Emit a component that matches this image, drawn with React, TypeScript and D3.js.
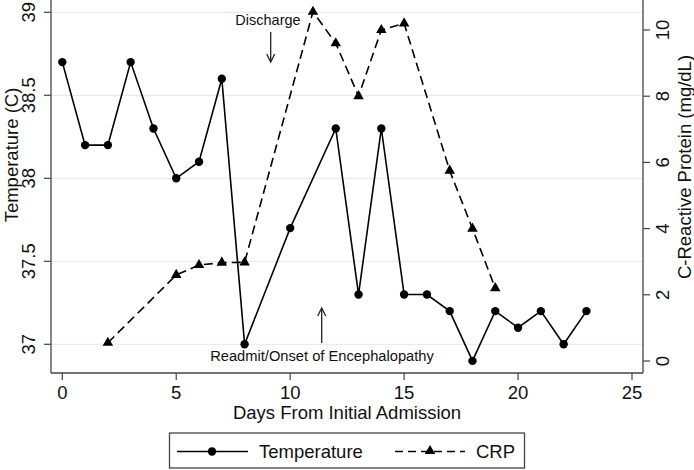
import React from "react";
import * as d3 from "d3";

const tempDays = [0, 1, 2, 3, 4, 5, 6, 7, 8, 10, 12, 13, 14, 15, 16, 17, 18, 19, 20, 21, 22, 23];
const tempValues = [38.7, 38.2, 38.2, 38.7, 38.3, 38.0, 38.1, 38.6, 37.0, 37.7, 38.3, 37.3, 38.3, 37.3, 37.3, 37.2, 36.9, 37.2, 37.1, 37.2, 37.0, 37.2];
const crpDays = [2, 5, 6, 7, 8, 11, 12, 13, 14, 15, 17, 18, 19];
const crpValues = [0.55, 2.6, 2.9, 2.97, 2.98, 10.55, 9.6, 8.0, 10.0, 10.2, 5.75, 4.0, 2.2];
const xTicks = [0, 5, 10, 15, 20, 25];
const tempTicks = [37, 37.5, 38, 38.5, 39];
const tempTickLabels = ["37", "37.5", "38", "38.5", "39"];
const crpTicks = [0, 2, 4, 6, 8, 10];

const FONT = "'Liberation Sans', Arial, Helvetica, sans-serif";
const AXIS = "#444";
const FS = 18.5;

export default function App() {
  const left = 51, right = 643, top = 0, bottom = 373;
  const x = d3.scaleLinear().domain([0, 25]).range([62.3, 632]);
  const yT = d3.scaleLinear().domain([37, 39]).range([344.3, 12.3]);
  const yC = d3.scaleLinear().domain([0, 10]).range([361, 30]);

  const tempLine = d3.line<number>().x((_, i) => x(tempDays[i])).y((d) => yT(d))(tempValues) || "";
  const crpLine = d3.line<number>().x((_, i) => x(crpDays[i])).y((d) => yC(d))(crpValues) || "";
  const tri = d3.symbol().type(d3.symbolTriangle).size(48)() || "";
  const dash = "9,5";

  return (
    <svg width={694} height={470} style={{ position: "absolute", left: 0, top: 0, background: "#fff" }} fontFamily={FONT}>
      <rect x={0} y={0} width={694} height={470} fill="#fff" />
      {tempTicks.map((t) => (
        <line key={"g" + t} x1={left} x2={right} y1={yT(t)} y2={yT(t)} stroke="#e6e6e6" strokeWidth={1} />
      ))}
      <line x1={left} x2={left} y1={top} y2={bottom} stroke={AXIS} strokeWidth={1.3} />
      <line x1={right} x2={right} y1={top} y2={bottom} stroke={AXIS} strokeWidth={1.3} />
      <line x1={left} x2={right} y1={bottom} y2={bottom} stroke={AXIS} strokeWidth={1.3} />
      {tempTicks.map((t, i) => (
        <g key={"lt" + t}>
          <line x1={left - 7} x2={left} y1={yT(t)} y2={yT(t)} stroke={AXIS} strokeWidth={1.2} />
          <text transform={`translate(${35},${yT(t)}) rotate(-90)`} textAnchor="middle" fontSize={FS} fill="#111">
            {tempTickLabels[i]}
          </text>
        </g>
      ))}
      {crpTicks.map((t) => (
        <g key={"rt" + t}>
          <line x1={right} x2={right + 7} y1={yC(t)} y2={yC(t)} stroke={AXIS} strokeWidth={1.2} />
          <text transform={`translate(${669},${yC(t)}) rotate(-90)`} textAnchor="middle" fontSize={FS} fill="#111">
            {t}
          </text>
        </g>
      ))}
      {xTicks.map((t) => (
        <g key={"bt" + t}>
          <line x1={x(t)} x2={x(t)} y1={bottom} y2={bottom + 7} stroke={AXIS} strokeWidth={1.2} />
          <text x={x(t)} y={399} textAnchor="middle" fontSize={FS} fill="#111">
            {t}
          </text>
        </g>
      ))}
      <text transform={`translate(${18},${155}) rotate(-90)`} textAnchor="middle" fontSize={FS} fill="#111">
        Temperature (C)
      </text>
      <text transform={`translate(${691},${167}) rotate(-90)`} textAnchor="middle" fontSize={FS} fill="#111">
        C-Reactive Protein (mg/dL)
      </text>
      <text x={347} y={419} textAnchor="middle" fontSize={FS} fill="#111">
        Days From Initial Admission
      </text>
      <path d={crpLine} fill="none" stroke="#000" strokeWidth={1.6} strokeDasharray={dash} />
      <path d={tempLine} fill="none" stroke="#000" strokeWidth={1.6} />
      {tempValues.map((v, i) => (
        <circle key={"c" + i} cx={x(tempDays[i])} cy={yT(v)} r={4.2} fill="#000" />
      ))}
      {crpValues.map((v, i) => (
        <path key={"t" + i} d={tri} transform={`translate(${x(crpDays[i])},${yC(v)})`} fill="#000" />
      ))}
      <text x={268} y={25} textAnchor="middle" fontSize={14.5} fill="#111">Discharge</text>
      <line x1={270.7} x2={270.7} y1={32} y2={61} stroke="#222" strokeWidth={1.3} />
      <path d="M266.7,54 L270.7,62 L274.7,54" fill="none" stroke="#222" strokeWidth={1.3} />
      <text x={322} y={361} textAnchor="middle" fontSize={14.7} fill="#111">Readmit/Onset of Encephalopathy</text>
      <line x1={321.7} x2={321.7} y1={309} y2={343} stroke="#222" strokeWidth={1.3} />
      <path d="M317.7,316 L321.7,308 L325.7,316" fill="none" stroke="#222" strokeWidth={1.3} />
      <rect x={169.5} y={433} width={355} height={35} fill="#fff" stroke={AXIS} strokeWidth={1.3} />
      <line x1={177} x2={248} y1={451.5} y2={451.5} stroke="#000" strokeWidth={1.6} />
      <circle cx={212} cy={451.5} r={4.2} fill="#000" />
      <text x={259} y={458} fontSize={FS} fill="#111">Temperature</text>
      <line x1={395} x2={465} y1={451.5} y2={451.5} stroke="#000" strokeWidth={1.6} strokeDasharray="8,5" />
      <path d={tri} transform="translate(430,451)" fill="#000" />
      <text x={476} y={458} fontSize={FS} fill="#111">CRP</text>
    </svg>
  );
}
